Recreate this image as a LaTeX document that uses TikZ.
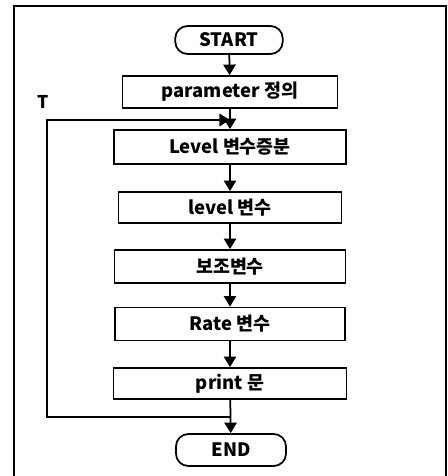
\documentclass[tikz,border=0pt]{standalone}
\usepackage{fontspec}
\setmainfont{Noto Sans CJK KR}
\usepackage{tikz}
\usetikzlibrary{arrows.meta,positioning}

\begin{document}
\begin{tikzpicture}[
    x=0.02cm, y=-0.02cm,
    every node/.style={font=\fontsize{10.5}{12}\selectfont\bfseries},
    box/.style={draw=black, minimum height=0.64cm, align=center, line width=1pt, inner sep=2pt},
    term/.style={draw=black, rounded corners=7pt, minimum width=2.15cm, minimum height=0.56cm, line width=1pt},
    arrow/.style={-{Triangle[width=7pt,length=6pt]}, line width=1pt, draw=black},
    line/.style={line width=1pt, draw=black}
]
    \useasboundingbox (0,0) rectangle (448,476);
    % Frame
    \draw[line width=0.9pt] (14,476) -- (14,6) -- (446,6) -- (446,476);

    % Flow
    \node[term] (start) at (229,40) {START};
    \node[box, minimum width=4.3cm] (param) at (230,92) {parameter 정의};
    \node[box, minimum width=4.64cm, minimum height=0.68cm] (levinc) at (230,147) {Level 변수증분};
    \node[box, minimum width=4.46cm, minimum height=0.62cm] (levvar) at (230,207.5) {level 변수};
    \node[box, minimum width=4.62cm, minimum height=0.66cm] (auxvar) at (230,266.5) {보조변수};
    \node[box, minimum width=4.6cm, minimum height=0.66cm] (ratevar) at (230,324) {Rate 변수};
    \node[box, minimum width=4.66cm, minimum height=0.62cm] (printst) at (230,383.5) {print 문};
    \node[term, minimum height=0.64cm, minimum width=2.2cm] (end) at (231,450) {END};
    \node[font=\fontsize{10}{12}\selectfont\bfseries] (tlabel) at (43,102) {T};

    % Loop
    \coordinate (join) at (230,417);
    \coordinate (loopbl) at (47,417);
    \coordinate (looptl) at (47,120);
    \coordinate (merge) at (230,120);

    \draw[arrow] (start) -- (param);
    \draw[arrow] (param) -- (levinc);
    \draw[arrow] (levinc) -- (levvar);
    \draw[arrow] (levvar) -- (auxvar);
    \draw[arrow] (auxvar) -- (ratevar);
    \draw[arrow] (ratevar) -- (printst);
    \draw[arrow] (printst) -- (end);
    \draw[arrow] (join) -- (loopbl) -- (looptl) -- (merge);

\end{tikzpicture}
\end{document}
